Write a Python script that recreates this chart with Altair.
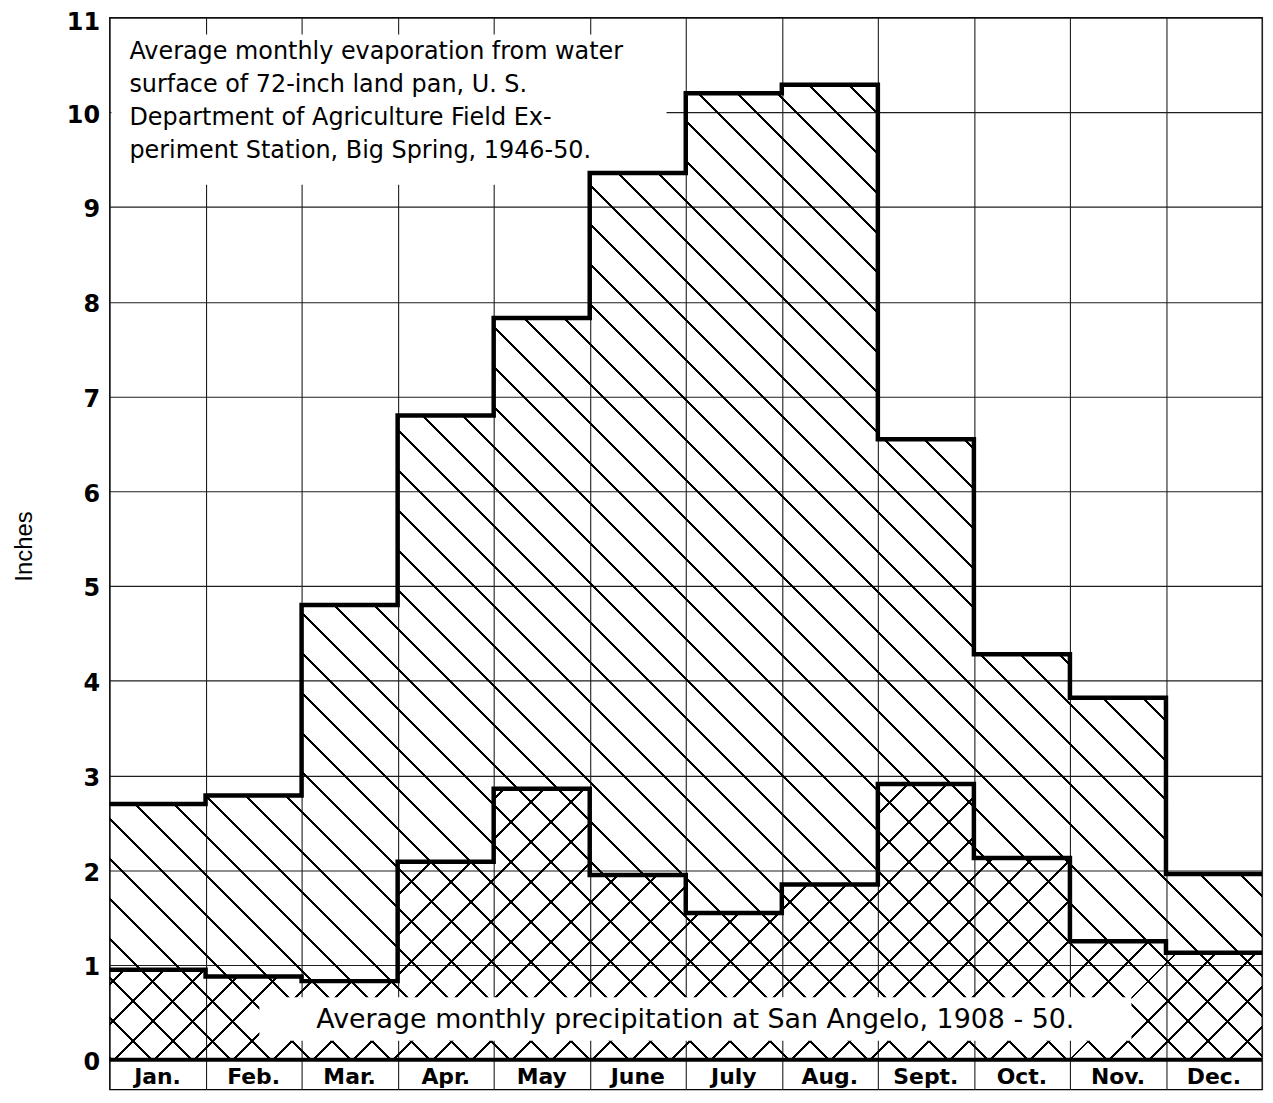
import altair as alt
import numpy as np
import pandas as pd

# ---------------- data ----------------
months = ["Jan.", "Feb.", "Mar.", "Apr.", "May", "June", "July", "Aug.",
          "Sept.", "Oct.", "Nov.", "Dec."]
evaporation = [2.70, 2.79, 4.80, 6.80, 7.83, 9.36, 10.20, 10.29, 6.55, 4.28, 3.82, 1.96]
precipitation = [0.95, 0.88, 0.83, 2.09, 2.86, 1.95, 1.55, 1.85, 2.91, 2.13, 1.25, 1.13]
y_ticks = list(range(12))
evap_note = ["Average monthly evaporation from water",
             "surface of 72-inch land pan, U. S.",
             "Department of Agriculture Field Ex-",
             "periment Station, Big Spring, 1946-50."]
precip_note = "Average monthly precipitation at San Angelo, 1908 - 50."

# ---------------- layout ----------------
W = 1158            # plot width (px)
H = 1077            # plot height (px)
YMAX = 11
UNIT = 95.2         # px per inch
YMIN = YMAX - H / UNIT

n = len(months)


def px(v):
    return v / n * W


def py(v):
    return (YMAX - v) * UNIT


steps = pd.DataFrame({
    "x": list(range(n + 1)),
    "evap": evaporation + [evaporation[-1]],
    "precip": precipitation + [precipitation[-1]],
})
month_df = pd.DataFrame({"month": months, "mid": np.arange(n) + 0.5})
one = pd.DataFrame({"a": [0]})

CLEAR = "rgba(0,0,0,0)"


def hatch(total, phase, spacing=40.0, width=3.0):
    stops = [{"offset": 0, "color": CLEAR}]
    c = phase % spacing
    while c - width / 2 < total:
        a = max(0.0, (c - width / 2) / total)
        b = min(1.0, (c + width / 2) / total)
        stops += [{"offset": a, "color": CLEAR}, {"offset": a, "color": "black"},
                  {"offset": b, "color": "black"}, {"offset": b, "color": CLEAR}]
        c += spacing
    stops.append({"offset": 1, "color": CLEAR})
    return stops


# "\" hatch for evaporation
maxE = max(evaporation)
Hb = maxE * UNIT
top_e = (YMAX - maxE) * UNIT
k = (W + Hb) / (W ** 2 + Hb ** 2)
grad_e = {"gradient": "linear", "x1": 0, "y1": 1, "x2": k * W, "y2": 1 - k * Hb,
          "stops": hatch(W + Hb, 35 + top_e + Hb)}

# "/" hatch for precipitation
maxP = max(precipitation)
Hp = maxP * UNIT
top_p = (YMAX - maxP) * UNIT
k2 = (W + Hp) / (W ** 2 + Hp ** 2)
grad_p = {"gradient": "linear", "x1": 0, "y1": 0, "x2": k2 * W, "y2": k2 * Hp,
          "stops": hatch(W + Hp, 12 - top_p)}

xs = alt.Scale(domain=[0, n], nice=False, zero=False)
ys = alt.Scale(domain=[YMIN, YMAX], nice=False, zero=False)

AX = alt.Axis(values=list(range(n + 1)), grid=True, labels=False,
              ticks=False, domain=False, title=None)
AY = alt.Axis(values=y_ticks, grid=True, ticks=False, domain=False,
              labelFont="DejaVu Sans", labelFontSize=24, labelFontWeight="bold",
              labelPadding=10,
              labelBaseline={"condition": {"test": "datum.value == 11", "value": "top"},
                             "value": "middle"},
              labelOffset={"condition": {"test": "datum.value == 11", "value": -7},
                           "value": 3},
              titleFont="Liberation Sans", titleFontSize=24,
              titleFontWeight="normal", titleX=-85, titleY=531,
              titleAngle=270, titleAlign="center", titleBaseline="middle")


def X(field):
    return alt.X(field, scale=xs, axis=AX, title=None)


def Y(field):
    return alt.Y(field, scale=ys, axis=AY, title="Inches")


top_box = alt.Chart(one).mark_rect(fill="white", strokeWidth=0).encode(
    x=alt.value(px(0.02)), x2=alt.value(px(5.8)),
    y=alt.value(py(10.82)), y2=alt.value(py(9.235)),
)

evap_area = alt.Chart(steps).mark_area(interpolate="step-after", fill=grad_e,
                                       strokeWidth=0).encode(
    x=X("x:Q"), y=Y("evap:Q"), y2=alt.Y2(datum=0),
)

precip_area = alt.Chart(steps).mark_area(interpolate="step-after", fill=grad_p,
                                         strokeWidth=0).encode(
    x=X("x:Q"), y=Y("precip:Q"), y2=alt.Y2(datum=0),
)

band = alt.Chart(one).mark_rect(fill="white", strokeWidth=0).encode(
    x=alt.value(px(1.56)), x2=alt.value(px(10.64)),
    y=alt.value(py(0.66)), y2=alt.value(py(0.2)),
)

zero_rule = alt.Chart(one).mark_rule(color="black", strokeWidth=4).encode(
    x=alt.value(0), x2=alt.value(W), y=alt.value(py(0)),
)

evap_line = alt.Chart(steps).mark_line(interpolate="step-after", color="black",
                                       strokeWidth=4.5).encode(
    x=X("x:Q"), y=Y("evap:Q"),
)

precip_line = alt.Chart(steps).mark_line(interpolate="step-after", color="black",
                                         strokeWidth=4.5).encode(
    x=X("x:Q"), y=Y("precip:Q"),
)

month_text = alt.Chart(month_df).mark_text(font="DejaVu Sans", fontSize=22, fontWeight="bold",
                                           color="black", baseline="middle",
                                           align="center").encode(
    x=X("mid:Q"),
    y=alt.value((py(0) + 2 + H) / 2 + 1),
    text="month:N",
)

evap_text = alt.Chart(one).mark_text(font="DejaVu Sans", fontSize=24, color="black",
                                     align="left", baseline="alphabetic",
                                     lineHeight=33).encode(
    x=alt.value(20), y=alt.value(42), text=alt.value(evap_note),
)

precip_text = alt.Chart(one).mark_text(font="DejaVu Sans", fontSize=27, color="black",
                                       align="center", baseline="middle").encode(
    x=alt.value(px(6.1)), y=alt.value(py(0.42)), text=alt.value(precip_note),
)

chart = alt.layer(
    top_box, evap_area, precip_area, band, zero_rule, evap_line, precip_line,
    month_text, evap_text, precip_text,
).properties(
    width=W, height=H,
    autosize=alt.AutoSizeParams(type="none"),
    padding={"left": 102, "top": 7, "right": 3, "bottom": 1},
    background="white",
).configure_view(
    stroke="black", strokeWidth=1.3,
).configure_axis(
    gridColor="#1e1e1e", gridWidth=1.1, labelColor="black", titleColor="black",
)

chart.save("out.html", embed_options={"renderer": "svg", "actions": False})
